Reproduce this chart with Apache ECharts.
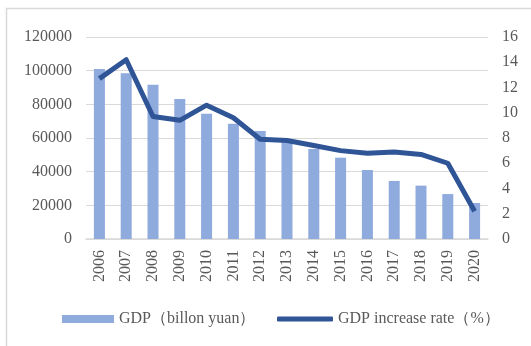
<!DOCTYPE html>
<html>
<head>
<meta charset="utf-8">
<script src="https://cdn.jsdelivr.net/npm/echarts@6/dist/echarts.min.js"></script>
<style>
  html, body { margin: 0; padding: 0; background: #fff; }
  #chart { width: 531px; height: 346px; }
</style>
</head>
<body>
<div id="chart"></div>
<script>
// Years on the category axis
const years = ['2006', '2007', '2008', '2009', '2010', '2011', '2012', '2013',
               '2014', '2015', '2016', '2017', '2018', '2019', '2020'];
// GDP, billion yuan
const gdp = [101000, 98400, 91700, 83200, 74400, 68500, 64200, 57500,
             53500, 48300, 41000, 34500, 31700, 26700, 21400];
// Annual growth rate, %
const growth = [12.7, 14.2, 9.7, 9.4, 10.6, 9.6, 7.9, 7.8,
                7.4, 7.0, 6.8, 6.9, 6.7, 6.0, 2.2];
// Tick settings
const leftTicks = { min: 0, max: 120000, interval: 20000 };
const rightTicks = { min: 0, max: 16, interval: 2 };

const barName = 'GDP（billon yuan）';
const lineName = 'GDP increase rate（%）';

const font = 'Liberation Serif';
const textColor = '#595959';
const gridColor = '#D9D9D9';

const chart = echarts.init(document.getElementById('chart'), null, { renderer: 'canvas' });
chart.setOption({
  backgroundColor: '#fff',
  animation: false,
  textStyle: { fontFamily: font },
  // frame: only the top and left edges fall inside the canvas
  graphic: [{
    type: 'polyline',
    shape: { points: [[6.5, 346], [6.5, 8.5], [531, 8.5]] },
    style: { fill: 'none', stroke: gridColor, lineWidth: 1.5 },
    silent: true
  }],
  grid: { left: 86, right: 43, top: 37, bottom: 107 },
  legend: [{
    data: [barName],
    left: 57, top: 306,
    icon: 'rect',
    itemWidth: 52, itemHeight: 8,
    textStyle: { color: textColor, fontSize: 16, fontFamily: font }
  }, {
    data: [lineName],
    left: 272, top: 306,
    icon: 'roundRect',
    itemWidth: 56, itemHeight: 5,
    textStyle: { color: textColor, fontSize: 16, fontFamily: font }
  }],
  xAxis: {
    type: 'category',
    data: years,
    axisTick: { show: false },
    axisLine: { lineStyle: { color: gridColor, width: 1.5 } },
    axisLabel: { rotate: 90, color: textColor, fontSize: 16, fontFamily: font, margin: 11 }
  },
  yAxis: [{
    type: 'value',
    min: leftTicks.min, max: leftTicks.max, interval: leftTicks.interval,
    axisLine: { show: false },
    axisTick: { show: false },
    axisLabel: { color: textColor, fontSize: 16, fontFamily: font, margin: 14,
                 formatter: v => String(v) },
    splitLine: { lineStyle: { color: gridColor, width: 1 } }
  }, {
    type: 'value',
    min: rightTicks.min, max: rightTicks.max, interval: rightTicks.interval,
    axisLine: { show: false },
    axisTick: { show: false },
    axisLabel: { color: textColor, fontSize: 16, fontFamily: font, margin: 14,
                 formatter: v => String(v) },
    splitLine: { show: false }
  }],
  series: [{
    name: barName,
    type: 'bar',
    data: gdp,
    barWidth: 11,
    itemStyle: { color: '#8FAADC' }
  }, {
    name: lineName,
    type: 'line',
    yAxisIndex: 1,
    data: growth,
    showSymbol: false,
    symbol: 'none',
    lineStyle: { color: '#2F5597', width: 5, join: 'round' },
    itemStyle: { color: '#2F5597' }
  }]
});
</script>
</body>
</html>
